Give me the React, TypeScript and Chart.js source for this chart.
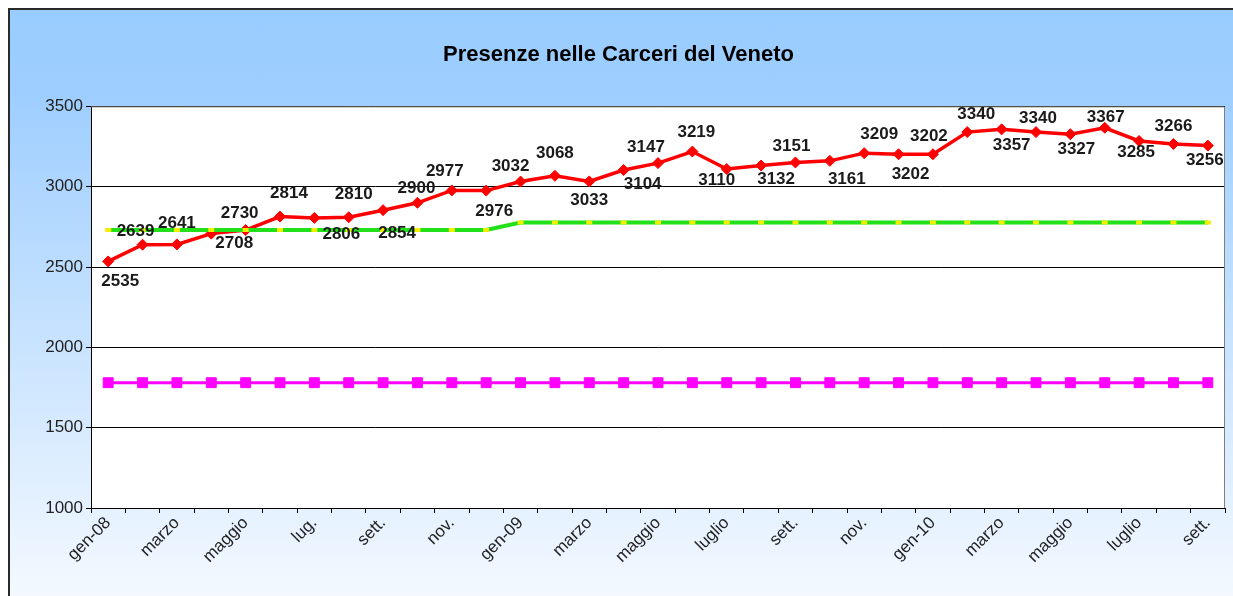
import React, { useEffect, useRef } from 'react';
import { Chart, registerables } from 'chart.js';

Chart.register(...registerables);

const TITLE = 'Presenze nelle Carceri del Veneto';
const FONT = '"Liberation Sans", Arial, Helvetica, sans-serif';

const categories = [
  'gen-08', 'febbraio', 'marzo', 'aprile', 'maggio', 'giugno', 'lug.', 'agosto', 'sett.', 'ottobre', 'nov.', 'dicembre',
  'gen-09', 'febbraio', 'marzo', 'aprile', 'maggio', 'giugno', 'luglio', 'agosto', 'sett.', 'ottobre', 'nov.', 'dicembre',
  'gen-10', 'febbraio', 'marzo', 'aprile', 'maggio', 'giugno', 'luglio', 'agosto', 'sett.',
];

const presenze = [
  2535, 2639, 2641, 2708, 2730, 2814, 2806, 2810, 2854, 2900, 2977, 2976,
  3032, 3068, 3033, 3104, 3147, 3219, 3110, 3132, 3151, 3161, 3209, 3202,
  3202, 3340, 3357, 3340, 3327, 3367, 3285, 3266, 3256,
];

const capienzaTollerabile = [
  2731, 2731, 2731, 2731, 2731, 2731, 2731, 2731, 2731, 2731, 2731, 2731,
  2777, 2777, 2777, 2777, 2777, 2777, 2777, 2777, 2777, 2777, 2777, 2777,
  2777, 2777, 2777, 2777, 2777, 2777, 2777, 2777, 2777,
];

const capienzaRegolamentare = [
  1780, 1780, 1780, 1780, 1780, 1780, 1780, 1780, 1780, 1780, 1780, 1780,
  1780, 1780, 1780, 1780, 1780, 1780, 1780, 1780, 1780, 1780, 1780, 1780,
  1780, 1780, 1780, 1780, 1780, 1780, 1780, 1780, 1780,
];

const yTicks = [1000, 1500, 2000, 2500, 3000, 3500];

// label placement (dx, dy) relative to each point of "presenze"
const labelOffsets: [number, number][] = [
  [12, 20], [-7, -13], [0, -21], [23, 10], [-6, -17], [9, -23], [27, 16], [5, -23],
  [14, 23], [-1, -14], [-7, -19], [8, 21], [-10, -15], [0, -22], [0, 19], [19, 14],
  [-12, -16], [4, -19], [-10, 11], [15, 14], [-4, -16], [17, 18], [15, -19], [12, 20],
  [-4, -18], [9, -18], [10, 16], [2, -14], [6, 15], [1, -10], [-3, 11], [0, -18], [-3, 15],
];

const plotFrame = {
  id: 'plotFrame',
  beforeDraw(chart: any) {
    const { ctx, chartArea } = chart;
    ctx.save();
    ctx.fillStyle = '#FFFFFF';
    ctx.fillRect(chartArea.left, chartArea.top, chartArea.right - chartArea.left, chartArea.bottom - chartArea.top);
    ctx.restore();
  },
  beforeDatasetsDraw(chart: any) {
    const { ctx, chartArea } = chart;
    ctx.save();
    ctx.strokeStyle = '#7F7F7F';
    ctx.lineWidth = 1;
    ctx.beginPath();
    ctx.moveTo(chartArea.left, chartArea.top + 0.5);
    ctx.lineTo(chartArea.right - 0.5, chartArea.top + 0.5);
    ctx.lineTo(chartArea.right - 0.5, chartArea.bottom);
    ctx.stroke();
    ctx.restore();
  },
};

const valueLabels = {
  id: 'valueLabels',
  afterDatasetsDraw(chart: any) {
    const { ctx } = chart;
    const dsIndex = chart.data.datasets.findIndex((d: any) => d.label === 'Presenze');
    const meta = chart.getDatasetMeta(dsIndex);
    ctx.save();
    ctx.font = `bold 17px ${FONT}`;
    ctx.fillStyle = '#1A1A1A';
    ctx.textAlign = 'center';
    ctx.textBaseline = 'middle';
    meta.data.forEach((pt: any, i: number) => {
      const [dx, dy] = labelOffsets[i] || [0, -16];
      ctx.fillText(String(presenze[i]), pt.x + dx, pt.y + dy);
    });
    ctx.restore();
  },
};

export default function App() {
  const canvasRef = useRef<HTMLCanvasElement | null>(null);

  useEffect(() => {
    const canvas = canvasRef.current;
    if (!canvas) return;
    const chart = new Chart(canvas, {
      type: 'line',
      data: {
        labels: categories,
        datasets: [
          {
            label: 'Capienza tollerabile',
            data: capienzaTollerabile,
            borderColor: '#22E01A',
            borderWidth: 4,
            pointStyle: 'line',
            pointRadius: 3,
            pointBorderColor: '#F2F000',
            pointBackgroundColor: '#F2F000',
            pointBorderWidth: 4,
            tension: 0,
          },
          {
            label: 'Presenze',
            data: presenze,
            borderColor: '#FF0000',
            borderWidth: 3.5,
            pointStyle: 'rectRot',
            pointRadius: 5.5,
            pointBackgroundColor: '#FF0000',
            pointBorderColor: '#FF0000',
            pointBorderWidth: 1,
            tension: 0,
          },
          {
            label: 'Capienza regolamentare',
            data: capienzaRegolamentare,
            borderColor: '#FF00FF',
            borderWidth: 3,
            pointStyle: 'rect',
            pointRadius: 7,
            pointBackgroundColor: '#FF00FF',
            pointBorderColor: '#FF00FF',
            pointBorderWidth: 1,
            tension: 0,
          },
        ],
      },
      options: {
        animation: false,
        responsive: false,
        maintainAspectRatio: false,
        events: [],
        layout: { padding: { left: 0, right: 6, top: 0, bottom: 0 } },
        plugins: {
          legend: { display: false },
          tooltip: { enabled: false },
          title: {
            display: true,
            text: TITLE,
            color: '#000000',
            font: { family: FONT, size: 22, weight: 'bold', lineHeight: 1.2 },
            padding: { top: 32, bottom: 38 },
          },
        },
        scales: {
          x: {
            type: 'category',
            offset: true,
            grid: {
              offset: true,
              drawOnChartArea: false,
              drawTicks: true,
              tickLength: 5,
              color: '#000000',
              lineWidth: 1,
            },
            border: { display: true, color: '#000000', width: 1 },
            ticks: {
              autoSkip: false,
              maxRotation: 45,
              minRotation: 45,
              color: '#222222',
              font: { family: FONT, size: 17 },
              padding: 0,
              callback: (_v: any, i: number) => (i % 2 === 0 ? categories[i] : ''),
            },
            afterFit: (s: any) => {
              s.height = 88;
            },
          },
          y: {
            min: yTicks[0],
            max: yTicks[yTicks.length - 1],
            ticks: {
              stepSize: yTicks[1] - yTicks[0],
              color: '#222222',
              font: { family: FONT, size: 17 },
              padding: 3,
              callback: (v: any) => String(v),
            },
            grid: { color: '#000000', lineWidth: 1, drawTicks: true, tickLength: 5 },
            border: { display: true, color: '#000000', width: 1 },
            afterFit: (s: any) => {
              s.width = 81;
            },
          },
        },
      },
      plugins: [plotFrame, valueLabels],
    });
    return () => chart.destroy();
  }, []);

  return (
    <div
      style={{
        position: 'fixed',
        left: 8,
        top: 8,
        width: 1240,
        height: 600,
        borderTop: '2px solid #2A2A2A',
        borderLeft: '2px solid #2A2A2A',
        background: 'linear-gradient(to bottom, #99CCFF 0%, #9ECEFF 14%, #F6FAFF 100%)',
        overflow: 'hidden',
      }}
    >
      <canvas ref={canvasRef} width={1223} height={586} style={{ display: 'block', width: 1223, height: 586 }} />
    </div>
  );
}
